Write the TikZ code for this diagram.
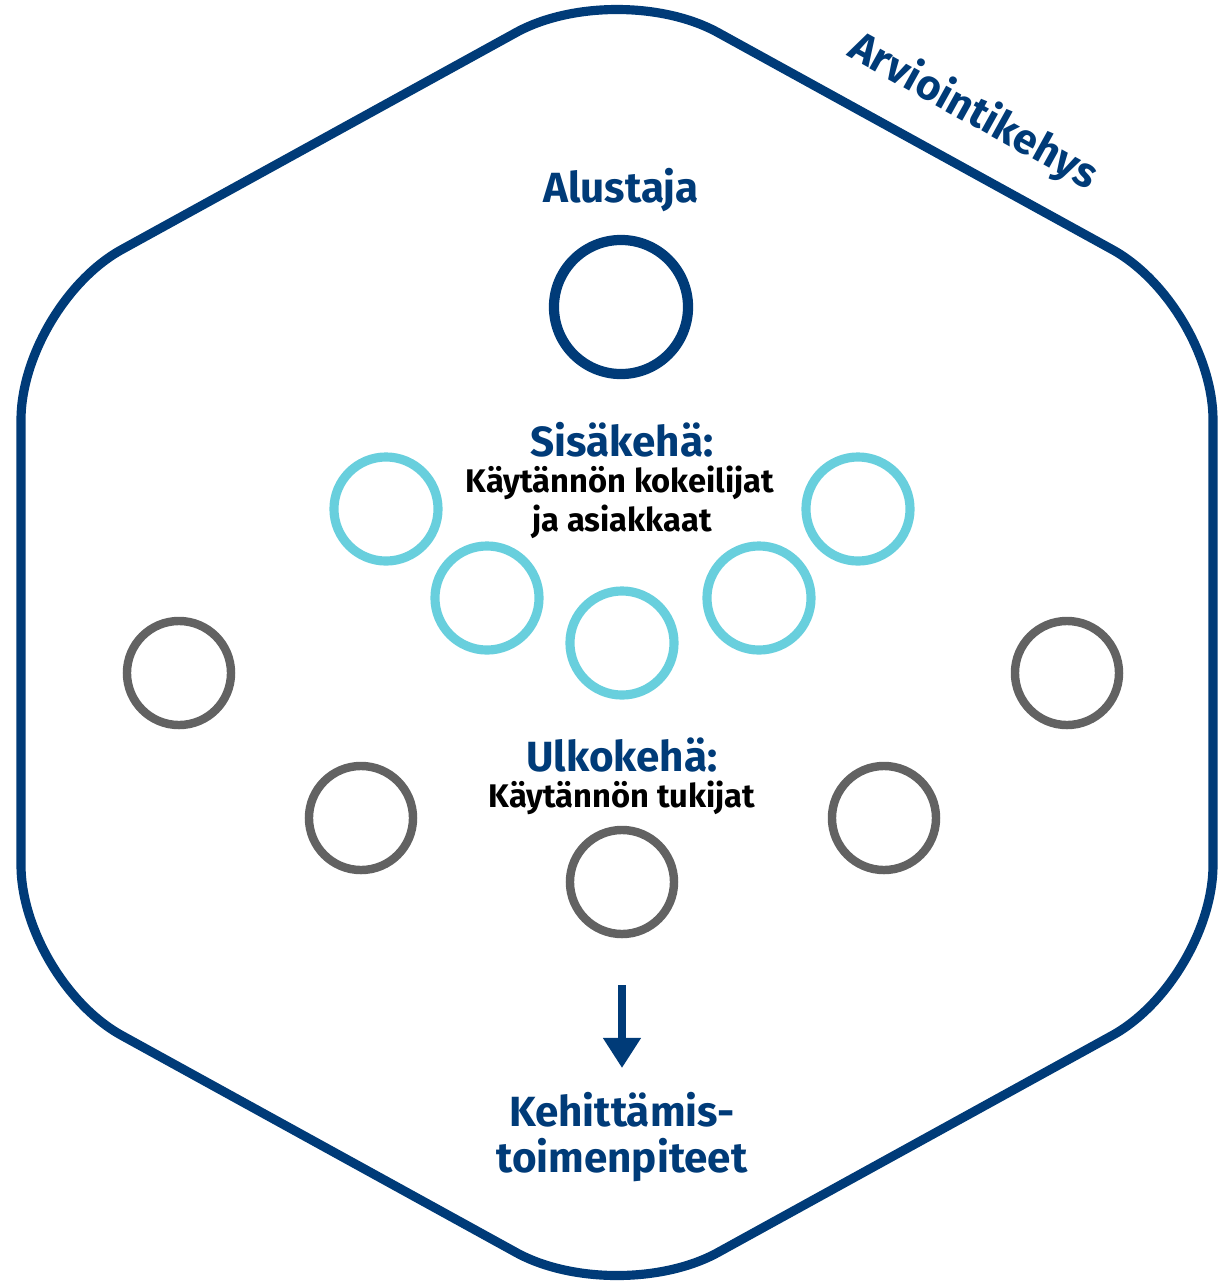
\documentclass[tikz,border=0pt]{standalone}
\usepackage{fontspec}
\setmainfont{Fira Sans}
\usepackage{xcolor}
\usetikzlibrary{calc,arrows.meta}
\definecolor{navyblue}{RGB}{0,59,120}
\definecolor{ringcyan}{RGB}{104,207,221}
\definecolor{ringgrey}{RGB}{98,98,98}

\begin{document}
\begin{tikzpicture}[x=0.01cm,y=-0.01cm]
        \useasboundingbox (0,0) rectangle (1219,1284);
        \tikzstyle{every node}=[inner sep=0pt]
        \tikzstyle{head}=[font=\bfseries\fontsize{12}{14}\selectfont,text=navyblue]
        \tikzstyle{sub}=[font=\bfseries\fontsize{9.3}{11}\selectfont,text=black]
        \tikzstyle{ring}=[draw,circle,line width=2.6pt,minimum size=1.04cm]

        % frame
        \draw[navyblue,line width=2.6pt,rounded corners=1.15cm]
            (617,-23) -- (1213,305) -- (1213,980) -- (617,1308)
            -- (21,980) -- (21,305) -- cycle;
        \node[head,rotate=-29] (10) at (973,112) {Arviointikehys};

        \node[head] (11) at (621,190) {Alustaja};
        \node[ring,navyblue,minimum size=1.34cm,line width=2.9pt] (12) at (621,307) {};

        \node[head] (20) at (622,440) {Sisäkehä:};
        \node[sub] (26) at (620,483) {Käytännön kokeilijat};
        \node[sub] (27) at (622,522) {ja asiakkaat};
        \node[ring,ringcyan] (23) at (622,643) {};
        \node[ring,ringcyan] (22) at ($(23)+(-135,-45)$) {};
        \node[ring,ringcyan] (21) at ($(22)+(-101,-89)$) {};
        \node[ring,ringcyan] (24) at ($(23)+(137,-45)$) {};
        \node[ring,ringcyan] (25) at ($(24)+(99,-89)$) {};

        \node[head] (30) at (622,755) {Ulkokehä:};
        \node[sub] (36) at (622,798) {Käytännön tukijat};
        \node[ring,ringgrey,line width=2.4pt] (33) at (622,882) {};
        \node[ring,ringgrey,line width=2.4pt] (32) at ($(33)+(-261,-64)$) {};
        \node[ring,ringgrey,line width=2.4pt] (31) at ($(32)+(-182,-145)$) {};
        \node[ring,ringgrey,line width=2.4pt] (34) at ($(33)+(262,-64)$) {};
        \node[ring,ringgrey,line width=2.4pt] (35) at ($(34)+(183,-145)$) {};

        \coordinate (41) at (622,985);
        \coordinate (42) at (622,1068);
        \draw[navyblue,line width=2.1pt,-{Triangle[width=0.36cm,length=0.3cm]}] (41) -- (42);
        \node[head] (43) at (622,1110) {Kehittämis-};
        \node[head] (44) at (622,1160) {toimenpiteet};
\end{tikzpicture}
\end{document}
